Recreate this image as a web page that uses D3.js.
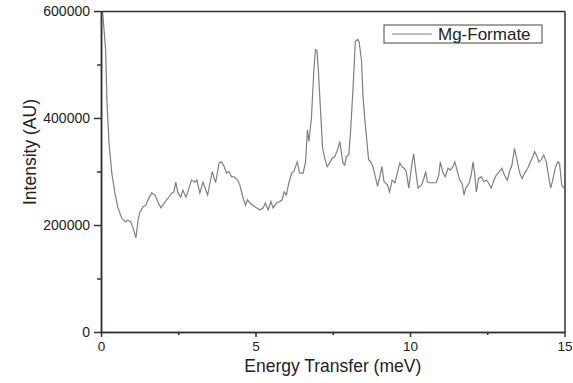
<!DOCTYPE html>
<html>
<head>
<meta charset="utf-8">
<script src="https://cdn.jsdelivr.net/npm/d3@7"></script>
<style>
  body { margin: 0; background: #fff; }
  svg text { font-family: "Liberation Sans", Arial, sans-serif; fill: #222; }
  .axis path, .axis line { stroke: #333; stroke-width: 1.5px; }
  .line { fill: none; stroke: #808080; stroke-width: 1.2px; }
</style>
</head>
<body>
<div id="chart"></div>
<script>
// energy transfer (meV) and intensity (AU)
var energy = [
  0.05, 0.15, 0.19, 0.26, 0.35, 0.45, 0.55, 0.67, 0.78, 0.87, 0.96, 1.03, 1.13, 1.20, 1.26, 1.36,
  1.45, 1.52, 1.64, 1.75, 1.84, 1.94, 2.04, 2.17, 2.30, 2.36, 2.42, 2.49, 2.58, 2.65, 2.75, 2.81,
  2.93, 3.04, 3.10, 3.20, 3.30, 3.45, 3.60, 3.71, 3.82, 3.90, 3.99, 4.06, 4.14, 4.23, 4.31, 4.42,
  4.49, 4.60, 4.68, 4.74, 4.82, 4.92, 5.03, 5.14, 5.25, 5.32, 5.41, 5.50, 5.57, 5.68, 5.79, 5.86,
  5.93, 6.00, 6.08, 6.17, 6.24, 6.35, 6.43, 6.54, 6.62, 6.68, 6.73, 6.81, 6.89, 6.94, 6.99, 7.04,
  7.10, 7.17, 7.24, 7.32, 7.40, 7.48, 7.57, 7.65, 7.73, 7.78, 7.83, 7.89, 7.94, 8.02, 8.08, 8.16,
  8.23, 8.30, 8.35, 8.43, 8.48, 8.54, 8.61, 8.66, 8.73, 8.80, 8.88, 8.95, 9.02, 9.09, 9.16, 9.27,
  9.34, 9.42, 9.51, 9.59, 9.67, 9.74, 9.81, 9.88, 9.96, 10.05, 10.12, 10.18, 10.26, 10.37, 10.45, 10.51,
  10.56, 10.64, 10.74, 10.85, 10.93, 10.98, 11.07, 11.14, 11.23, 11.31, 11.39, 11.45, 11.52, 11.61, 11.68, 11.75,
  11.80, 11.88, 11.93, 11.99, 12.04, 12.09, 12.15, 12.22, 12.31, 12.39, 12.47, 12.54, 12.63, 12.72, 12.79, 12.90,
  12.97, 13.06, 13.15, 13.22, 13.30, 13.38, 13.46, 13.55, 13.63, 13.71, 13.81, 13.90, 13.98, 14.03, 14.09, 14.17,
  14.25, 14.33, 14.41, 14.48, 14.55, 14.62, 14.71, 14.79, 14.84, 14.91, 14.98
];
var intensity = [
  600000, 527000, 434000, 353000, 297000, 260000, 232000, 213000, 206000, 209000, 206000, 196000, 176000, 209000, 224000, 234000,
  237000, 247000, 260000, 256000, 243000, 232000, 241000, 250000, 260000, 262000, 280000, 260000, 252000, 265000, 252000, 262000,
  284000, 280000, 284000, 260000, 280000, 256000, 300000, 279000, 316000, 318000, 309000, 297000, 300000, 290000, 290000, 284000,
  275000, 250000, 237000, 247000, 241000, 237000, 232000, 228000, 232000, 241000, 228000, 244000, 232000, 241000, 244000, 247000,
  262000, 256000, 279000, 297000, 300000, 318000, 297000, 297000, 318000, 378000, 356000, 400000, 490000, 528000, 526000, 484000,
  419000, 344000, 325000, 309000, 316000, 325000, 328000, 340000, 356000, 335000, 316000, 312000, 328000, 331000, 378000, 459000,
  543000, 547000, 543000, 508000, 440000, 396000, 353000, 322000, 318000, 309000, 290000, 272000, 290000, 309000, 281000, 275000,
  262000, 284000, 279000, 297000, 316000, 309000, 306000, 300000, 269000, 309000, 333000, 303000, 269000, 275000, 287000, 300000,
  281000, 279000, 279000, 279000, 293000, 318000, 297000, 290000, 306000, 303000, 309000, 318000, 303000, 284000, 279000, 256000,
  269000, 275000, 281000, 297000, 318000, 297000, 262000, 287000, 290000, 281000, 284000, 279000, 269000, 284000, 293000, 300000,
  306000, 293000, 284000, 300000, 312000, 343000, 322000, 297000, 287000, 297000, 306000, 318000, 328000, 337000, 331000, 318000,
  322000, 331000, 318000, 293000, 269000, 284000, 309000, 318000, 315000, 275000, 269000
];
var xTicks = [0, 5, 10, 15];
var xMinorTicks = [2.5, 7.5, 12.5];
var yTicks = [0, 200000, 400000, 600000];
var yMinorTicks = [100000, 300000, 500000];
var seriesName = "Mg-Formate";

createGraph();

function createGraph(){
  var data = energy.map(function(e, i) { return { e: e, v: intensity[i] }; });

  var width = 573, height = 383;
  var plotLeft = 101, plotRight = 564.5, plotTop = 11, plotBottom = 332;

  var svg = d3.select("#chart").append("svg")
    .attr("width", width)
    .attr("height", height);

  /* Scale */
  var xScale = d3.scaleLinear().domain([0, 15]).range([plotLeft, plotRight]);
  var yScale = d3.scaleLinear().domain([0, 600000]).range([plotBottom, plotTop]);

  /* Line */
  var line = d3.line()
    .x(d => xScale(d.e))
    .y(d => yScale(d.v));

  svg.append("path")
    .datum(data)
    .attr("class", "line")
    .attr("d", line);

  /* Axes */
  svg.append("g")
    .attr("class", "axis")
    .attr("transform", `translate(0, ${plotBottom})`)
    .call(d3.axisBottom(xScale).tickValues(xTicks).tickSize(5).tickSizeOuter(0).tickPadding(4).tickFormat(d3.format("d")))
    .selectAll("text").style("font-size", "13.5px");

  svg.append("g")
    .attr("class", "axis")
    .attr("transform", `translate(0, ${plotBottom})`)
    .call(d3.axisBottom(xScale).tickValues(xMinorTicks).tickSize(3).tickSizeOuter(0).tickFormat(""));

  svg.append("g")
    .attr("class", "axis")
    .attr("transform", `translate(${plotLeft}, 0)`)
    .call(d3.axisLeft(yScale).tickValues(yTicks).tickSize(7).tickSizeOuter(0).tickPadding(4).tickFormat(d3.format("d")))
    .selectAll("text").style("font-size", "14px");

  svg.append("g")
    .attr("class", "axis")
    .attr("transform", `translate(${plotLeft}, 0)`)
    .call(d3.axisLeft(yScale).tickValues(yMinorTicks).tickSize(4).tickSizeOuter(0).tickFormat(""));

  // frame on top and right
  svg.append("g")
    .attr("class", "axis")
    .attr("transform", `translate(0, ${plotTop})`)
    .call(d3.axisTop(xScale).tickValues([]).tickSizeOuter(0));

  svg.append("g")
    .attr("class", "axis")
    .attr("transform", `translate(${plotRight}, 0)`)
    .call(d3.axisRight(yScale).tickValues([]).tickSizeOuter(0));

  /* Titles */
  svg.append("text")
    .attr("x", (plotLeft + plotRight) / 2)
    .attr("y", 372)
    .attr("text-anchor", "middle")
    .style("font-size", "17.5px")
    .text("Energy Transfer (meV)");

  svg.append("text")
    .attr("transform", "translate(36, 152) rotate(-90)")
    .attr("text-anchor", "middle")
    .style("font-size", "17.5px")
    .text("Intensity (AU)");

  /* Legend */
  var legend = svg.append("g").attr("transform", "translate(384, 25)");
  legend.append("rect")
    .attr("width", 158)
    .attr("height", 18)
    .attr("fill", "#fff")
    .attr("stroke", "#444")
    .attr("stroke-width", 1);
  legend.append("line")
    .attr("class", "line")
    .attr("x1", 8).attr("x2", 48)
    .attr("y1", 9).attr("y2", 9);
  legend.append("text")
    .attr("x", 54)
    .attr("y", 15)
    .style("font-size", "17px")
    .text(seriesName);
}
</script>
</body>
</html>
